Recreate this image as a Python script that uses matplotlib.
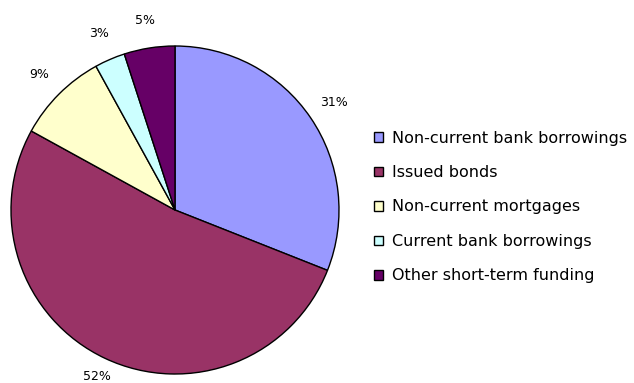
import matplotlib
matplotlib.use("Agg")
import matplotlib.pyplot as plt

categories = ["Non-current bank borrowings", "Issued bonds", "Non-current mortgages",
              "Current bank borrowings", "Other short-term funding"]
values = [31, 52, 9, 3, 5]
colors = ["#9999FF", "#993366", "#FFFFCC", "#CCFFFF", "#660066"]

plt.rcParams['font.family'] = ['DejaVu Sans']

fig = plt.figure(figsize=(6.34, 3.83), dpi=100)
ax = fig.add_axes([11/634, 9/383, 328/634, 328/383])
wedges, texts, autotexts = ax.pie(values, colors=colors, startangle=90, counterclock=False,
                                  autopct='%1.0f%%', pctdistance=1.17,
                                  wedgeprops=dict(edgecolor='black', linewidth=1.0),
                                  textprops=dict(fontsize=9, color='black'))
# pull the bottom label in slightly so it stays inside the figure
x, y = autotexts[1].get_position()
autotexts[1].set_position((x * 0.96, y * 0.96))
ax.set_xlim(-1, 1)
ax.set_ylim(-1, 1)
ax.set_aspect('equal')
ax.axis('off')

fig.legend(wedges, categories, loc='center left', bbox_to_anchor=(366/634, (383-207)/383),
           frameon=False, fontsize=11.5, handlelength=0.55, handleheight=0.55,
           handletextpad=0.6, labelspacing=1.22, borderpad=0)

fig.savefig("out.png", dpi=100)
